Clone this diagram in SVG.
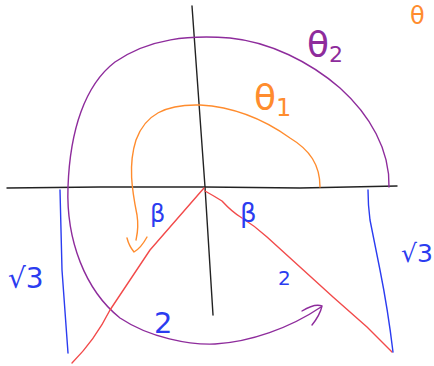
<svg xmlns="http://www.w3.org/2000/svg" width="434" height="366" viewBox="0 0 434 366">
<style>
.ln{fill:none;stroke-width:1.4;stroke-linecap:round;stroke-linejoin:round}
.k{stroke:#222}
.p{stroke:#8e2c9c}
.o{stroke:#ff8c2e}
.r{stroke:#f24a4a}
.b{stroke:#2b3cf0}
text{font-family:"DejaVu Sans",sans-serif}
.tp{fill:#8e2c9c}
.to{fill:#ff8c2e}
.tb{fill:#2b3cf0}
</style>
<rect width="434" height="366" fill="#fff"/>
<g id="axes">
<path class="ln k" d="M7,188 L100,187 L205,187 L300,188 L397,186"/>
<path class="ln k" d="M192,6 L205,187 L213,315"/>
</g>
<g id="theta2-arc">
<path class="ln p" d="M389,187 C390,150 370,115 340,88 C310,62 270,42 230,38 C190,35 150,38 115,62 C85,85 70,130 68,187 C66,240 85,290 120,318 C150,338 190,345 215,344 C250,342 290,328 321,307"/>
<path class="ln p" d="M302,311 Q315,303 322,306 Q320,315 312,325"/>
</g>
<g id="theta1-arc">
<path class="ln o" d="M320,187 C320,165 310,150 290,138 C265,120 235,107 200,105 C165,104 145,115 136,140 C128,165 132,190 137,215 C139,228 137,235 136,240"/>
<path class="ln o" d="M127,238 Q129,246 134,252 Q141,248 147,237"/>
</g>
<g id="red-lines">
<path class="ln r" d="M204,188 L150,250 L110,310 Q95,340 72,363"/>
<path class="ln r" d="M205,191 Q214,196 222,201 Q232,212 242,218 Q255,226 267,237 L300,267 L333,297 L367,327 L392,352"/>
</g>
<g id="blue-lines">
<path class="ln b" d="M60,190 Q61,230 62,270 Q65,310 68,353"/>
<path class="ln b" d="M368,190 Q368,205 370,220 Q375,245 380,270 Q388,310 393,352"/>
</g>
<g id="labels">
<text class="tp" x="307" y="57" font-size="36">θ<tspan font-size="22" dy="5">2</tspan></text>
<text class="to" x="254" y="110" font-size="36">θ<tspan font-size="24" dy="6">1</tspan></text>
<text class="to" x="410" y="24" font-size="24">θ</text>
<text class="tb" x="150" y="222" font-size="24">β</text>
<text class="tb" x="240" y="222" font-size="26">β</text>
<text class="tb" x="278" y="285" font-size="20">2</text>
<text class="tb" x="154" y="333" font-size="29">2</text>
<text class="tb" x="8" y="288" font-size="28">√3</text>
<text class="tb" x="401" y="262" font-size="25">√3</text>
</g>
</svg>
